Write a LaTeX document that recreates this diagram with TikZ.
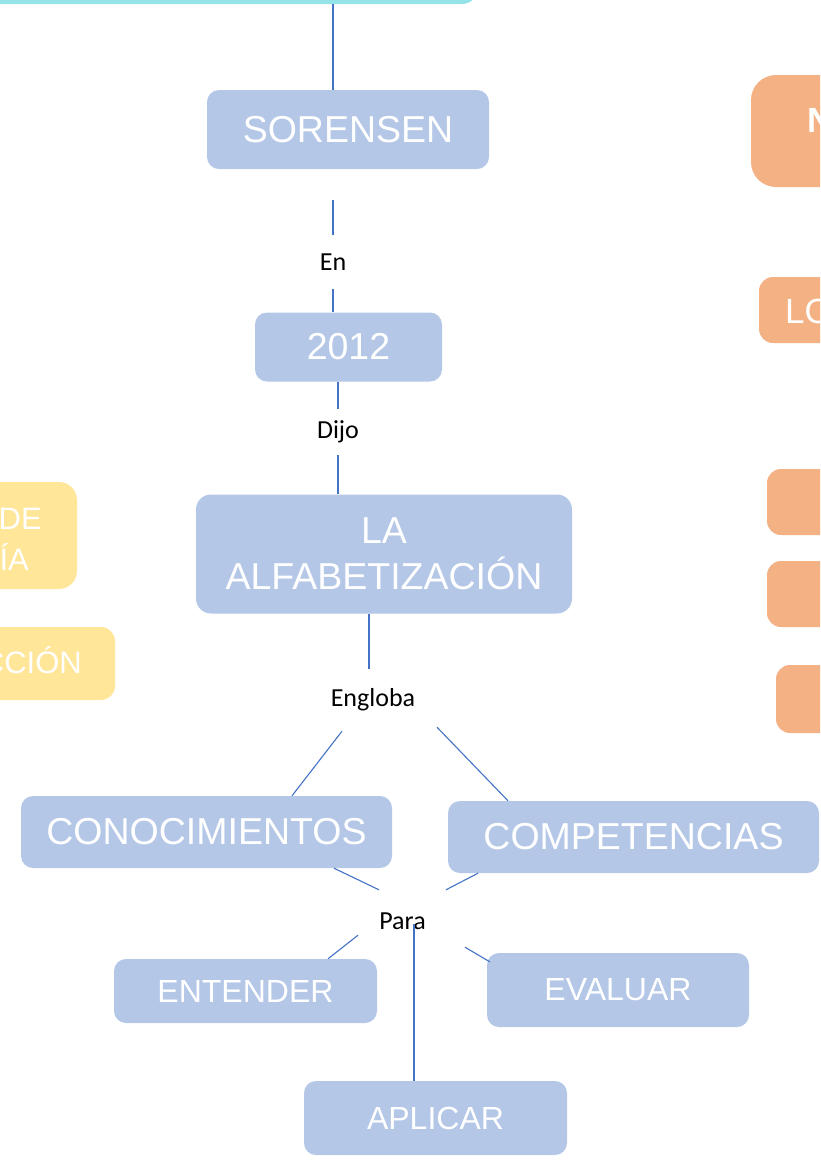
\documentclass[tikz,border=0pt]{standalone}
\usepackage{fontspec}
\setmainfont{Liberation Sans}
\newfontfamily\calibri{Carlito}
\usetikzlibrary{positioning}

\definecolor{conblue}{HTML}{B4C7E7}
\definecolor{linkblue}{HTML}{4472C4}
\definecolor{topteal}{HTML}{93E3E8}
\definecolor{sideyellow}{HTML}{FFE699}
\definecolor{sideorange}{HTML}{F4B183}

\tikzset{
  concept/.style={fill=conblue, rounded corners=12pt, text=white, inner sep=0pt,
    font=\fontsize{37.5}{46}\selectfont, align=center},
  smallconcept/.style={concept, font=\fontsize{32}{38}\selectfont},
  linkword/.style={font=\calibri\fontsize{26}{30}\selectfont, inner sep=0pt},
  sidebox/.style={rounded corners=14pt, inner sep=0pt},
  sidetext/.style={text=white, inner sep=0pt, font=\fontsize{31}{38}\selectfont},
  link/.style={draw=linkblue, line width=1.8pt},
  thinlink/.style={draw=linkblue, line width=1.1pt}
}

\begin{document}
\begin{tikzpicture}[x=1pt, y=-1pt]
  \useasboundingbox (0,0) rectangle (820,1160);
  \clip (0,0) rectangle (820,1160);

  % boxes cut by the page edge
  \node[sidebox, fill=topteal, rounded corners=16pt, minimum width=778pt, minimum height=104pt] (top) at (89,-48) {};
  \node[sidebox, fill=sideyellow, rounded corners=18pt, minimum width=300pt, minimum height=107pt] (yone) at (-73,535.5) {};
  \node[sidetext, anchor=base east] (yonea) at (42,529) {DE};
  \node[sidetext, anchor=base east] (yoneb) at (29,570) {ÍA};
  \node[sidebox, fill=sideyellow, minimum width=300pt, minimum height=73pt] (ytwo) at (-35,663.5) {};
  \node[sidetext, anchor=base east] (ytwoa) at (82,673) {CCIÓN};
  \node[sidebox, fill=sideorange, rounded corners=25pt, minimum width=300pt, minimum height=112pt] (oone) at (901,131) {};
  \node[sidetext, anchor=base west, font=\fontsize{35}{40}\selectfont\bfseries] (oonea) at (807,132) {N};
  \node[sidebox, fill=sideorange, minimum width=200pt, minimum height=66pt] (otwo) at (859,310) {};
  \node[sidetext, anchor=base west, font=\fontsize{35}{40}\selectfont] (otwoa) at (785,323) {LO};
  \node[sidebox, fill=sideorange, minimum width=200pt, minimum height=66pt] (othree) at (867,502) {};
  \node[sidebox, fill=sideorange, minimum width=200pt, minimum height=66pt] (ofour) at (867,594) {};
  \node[sidebox, fill=sideorange, minimum width=200pt, minimum height=68pt] (ofive) at (876,699) {};

  % concept map
  \node[concept, minimum width=282pt, minimum height=79pt] (sor) at (348,129.5) {SORENSEN};
  \node[linkword, minimum height=54pt] (en) at (333,262) {En};
  \node[concept, minimum width=187pt, minimum height=69pt] (year) at (348.5,347) {2012};
  \node[linkword, minimum height=46pt] (dijo) at (338,432) {Dijo};
  \node[concept, rounded corners=15pt, minimum width=376pt, minimum height=119pt] (alf) at (384,554) {LA\\ALFABETIZACIÓN};
  \node[linkword, minimum height=62pt] (eng) at (373,700) {Engloba};
  \node[concept, minimum width=371pt, minimum height=72pt] (con) at (206.5,832) {CONOCIMIENTOS};
  \node[concept, minimum width=371pt, minimum height=72pt] (com) at (633.5,837) {COMPETENCIAS};
  \node[linkword, minimum height=62pt] (para) at (402.5,921) {Para};
  \node[smallconcept, minimum width=263pt, minimum height=64pt] (ent) at (245.5,991) {ENTENDER};
  \node[smallconcept, minimum width=262pt, minimum height=74pt] (eva) at (618,990) {EVALUAR};
  \node[smallconcept, minimum width=263pt, minimum height=74pt] (apl) at (435.5,1118) {APLICAR};

  \coordinate (engtop) at ([xshift=-4pt]eng.north);
  \coordinate (paradown) at ([xshift=11.5pt,yshift=-3pt]para.center);

  \draw[link] (top.south -| en) -- (sor.north -| en);
  \draw[link, shorten <=31pt] (sor.south -| en) -- (en.north);
  \draw[link] (en.south) -- (year.north -| en);
  \draw[link] (year.south -| dijo) -- (dijo.north);
  \draw[link] (dijo.south) -- (alf.north -| dijo);
  \draw[link] (alf.south -| engtop) -- (engtop);
  \draw[thinlink] ([xshift=-31pt]eng.south) -- ([xshift=85.5pt]con.north);
  \draw[thinlink] ([xshift=64pt,yshift=4pt]eng.south) -- ([xshift=-125.5pt]com.north);
  \draw[thinlink] ([xshift=127.5pt]con.south) -- ([xshift=-23.5pt]para.north);
  \draw[thinlink] ([xshift=-155.5pt]com.south) -- ([xshift=43.5pt]para.north);
  \draw[thinlink] ([xshift=-44.5pt,yshift=17pt]para.south) -- ([xshift=82.5pt]ent.north);
  \draw[thinlink] ([xshift=62.5pt,yshift=5pt]para.south) -- ([xshift=3pt,yshift=-9pt]eva.north west);
  \draw[link] (paradown) -- (apl.north -| paradown);
\end{tikzpicture}
\end{document}
